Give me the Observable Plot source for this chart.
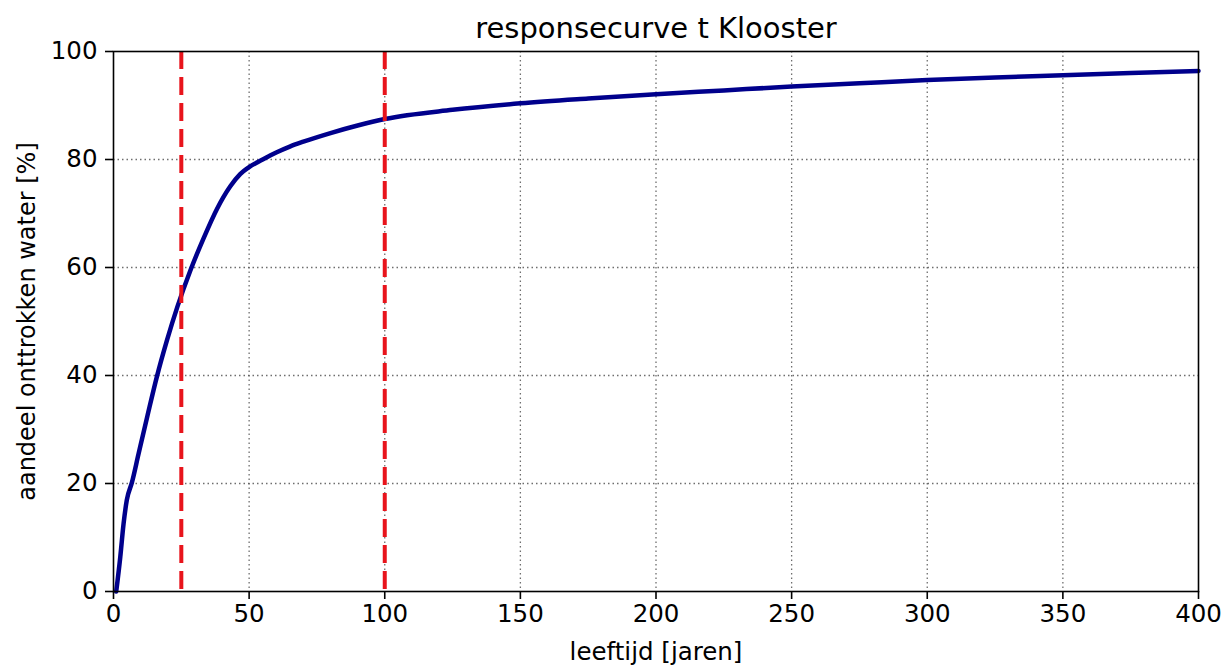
<!DOCTYPE html>
<html>
<head>
<meta charset="utf-8">
<script src="https://cdn.jsdelivr.net/npm/d3@7"></script>
<script src="https://cdn.jsdelivr.net/npm/@observablehq/plot@0.6"></script>
<style>
  html, body { margin: 0; padding: 0; background: #fff; }
  svg { display: block; }
</style>
</head>
<body>
<div id="chart"></div>
<script>
const titleText = "responsecurve t Klooster";
const xLabel = "leeftijd [jaren]";
const yLabel = "aandeel onttrokken water [%]";

const ages = [1, 2.5, 3.7, 4.9, 6.8, 9.2, 12.5, 16, 19.7, 23.6, 28.3, 33.2, 38.1, 43, 46.7, 50, 55, 60, 65, 70, 80, 90, 100, 125, 150, 175, 200, 225, 250, 275, 300, 325, 350, 375, 400];
const shares = [0, 6.4, 12.5, 16.9, 20.2, 25.4, 32.5, 39.8, 46.5, 52.8, 59.4, 65.4, 70.8, 75.0, 77.3, 78.6, 80.0, 81.3, 82.4, 83.3, 84.9, 86.3, 87.5, 89.2, 90.4, 91.3, 92.1, 92.8, 93.5, 94.1, 94.7, 95.2, 95.6, 96.0, 96.4];

const markerAges = [25, 100];
const xTicks = [0, 50, 100, 150, 200, 250, 300, 350, 400];
const yTicks = [0, 20, 40, 60, 80, 100];

const curve = ages.map((a, i) => ({age: a, share: shares[i]}));

const font = "DejaVu Sans, sans-serif";

const chart = Plot.plot({
  width: 1223,
  height: 665,
  marginLeft: 113,
  marginRight: 25,
  marginTop: 51,
  marginBottom: 74,
  style: {fontFamily: font, background: "#fff", color: "#000"},
  x: {domain: [0, 400]},
  y: {domain: [0, 100]},
  marks: [
    Plot.gridX(xTicks.slice(1, -1), {stroke: "#555", strokeOpacity: 0.85, strokeWidth: 1.3, strokeDasharray: "1.5,3"}),
    Plot.gridY(yTicks.slice(1, -1), {stroke: "#555", strokeOpacity: 0.85, strokeWidth: 1.3, strokeDasharray: "1.5,3"}),
    Plot.line(curve, {x: "age", y: "share", stroke: "#00008c", strokeWidth: 4.5, curve: "monotone-x"}),
    Plot.ruleX(markerAges, {stroke: "#e8141c", strokeWidth: 4, strokeDasharray: "18,8"}),
    Plot.frame({stroke: "#000", strokeWidth: 1.6}),
    Plot.axisX(xTicks, {tickSize: 8, tickPadding: 5, fontSize: 24.5, label: null, strokeWidth: 1.6}),
    Plot.axisY(yTicks, {tickSize: 8, tickPadding: 8, fontSize: 24.5, label: null, strokeWidth: 1.6}),
    Plot.text([titleText], {frameAnchor: "top", dy: -23, fontSize: 29, lineAnchor: "middle", textAnchor: "middle", fill: "#000"}),
    Plot.text([xLabel], {frameAnchor: "bottom", dy: 61, fontSize: 24.5, lineAnchor: "middle", textAnchor: "middle", fill: "#000"}),
    Plot.text([yLabel], {frameAnchor: "left", dx: -86, rotate: -90, fontSize: 24, lineAnchor: "middle", textAnchor: "middle", fill: "#000"})
  ]
});
document.getElementById("chart").appendChild(chart);
</script>
</body>
</html>
